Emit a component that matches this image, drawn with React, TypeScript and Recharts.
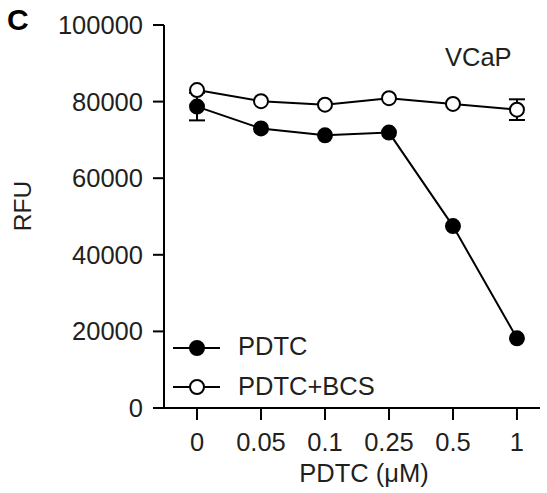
import React from 'react';
import { LineChart, Line, XAxis, YAxis, ErrorBar, Legend } from 'recharts';

const doses = ['0', '0.05', '0.1', '0.25', '0.5', '1'];
const pdtcValues = [78700, 73000, 71200, 71900, 47500, 18200];
const pdtcErrors = [3600, 0, 0, 0, 0, 0];
const bcsValues = [83000, 80100, 79200, 80900, 79400, 77900];
const bcsErrors = [0, 0, 0, 0, 0, 2700];
const yTicks = [0, 20000, 40000, 60000, 80000, 100000];
const xTicks = doses.map((_, i) => i);

const data = doses.map((d, i) => ({
  x: i,
  dose: d,
  pdtc: pdtcValues[i],
  pdtcErr: pdtcErrors[i],
  bcs: bcsValues[i],
  bcsErr: bcsErrors[i],
}));

const FONT = '"Liberation Sans", Arial, Helvetica, sans-serif';
const TEXT = '#231f20';

const LegendContent = () => (
  <svg width={260} height={80} style={{ overflow: 'visible' }}>
    <line x1={5} y1={15} x2={52} y2={15} stroke="#000" strokeWidth={2} />
    <circle cx={29} cy={15} r={7} fill="#000" stroke="#000" strokeWidth={2} />
    <text x={70} y={22} fontSize={25.5} fill={TEXT} fontFamily={FONT}>PDTC</text>
    <line x1={5} y1={54} x2={52} y2={54} stroke="#000" strokeWidth={2} />
    <circle cx={29} cy={54} r={7} fill="#fff" stroke="#000" strokeWidth={2} />
    <text x={70} y={62} fontSize={25.5} fill={TEXT} fontFamily={FONT}>PDTC+BCS</text>
  </svg>
);

export default function App() {
  return (
    <div style={{ position: 'absolute', left: 0, top: 0, width: 547, height: 493, background: '#fff', fontFamily: FONT }}>
      <LineChart
        width={547}
        height={493}
        data={data}
        margin={{ top: 25, right: 7, bottom: 0, left: 0 }}
      >
        <XAxis
          dataKey="x"
          type="number"
          domain={[-0.516, 5.36]}
          allowDataOverflow
          ticks={xTicks}
          tickFormatter={(v: number) => doses[v] ?? ''}
          height={85}
          stroke="#000"
          strokeWidth={2}
          tickSize={12}
          tickMargin={13}
          tickLine={{ stroke: '#000', strokeWidth: 2 }}
          tick={{ fill: TEXT, fontSize: 25.5, fontFamily: FONT }}
          label={() => (
            <text x={364} y={482} textAnchor="middle" fontSize={25.5} fill={TEXT} fontFamily={FONT}>
              PDTC (μM)
            </text>
          )}
        />
        <YAxis
          type="number"
          domain={[0, 100000]}
          ticks={yTicks}
          width={164}
          stroke="#000"
          strokeWidth={2}
          tickSize={11}
          tickMargin={10}
          tickLine={{ stroke: '#000', strokeWidth: 2 }}
          tick={{ fill: TEXT, fontSize: 25.5, fontFamily: FONT }}
          label={() => (
            <text x={31} y={206} textAnchor="middle" fontSize={24.5} fill={TEXT} fontFamily={FONT} transform="rotate(-90 31 206)">
              RFU
            </text>
          )}
        />
        <Line
          dataKey="bcs"
          name="PDTC+BCS"
          stroke="#000"
          strokeWidth={2}
          dot={{ r: 7, fill: '#fff', stroke: '#000', strokeWidth: 2 }}
          isAnimationActive={false}
        >
          <ErrorBar dataKey="bcsErr" width={8} stroke="#000" strokeWidth={2} direction="y" />
        </Line>
        <Line
          dataKey="pdtc"
          name="PDTC"
          stroke="#000"
          strokeWidth={2}
          dot={{ r: 7, fill: '#000', stroke: '#000', strokeWidth: 2 }}
          isAnimationActive={false}
        >
          <ErrorBar dataKey="pdtcErr" width={8} stroke="#000" strokeWidth={2} direction="y" />
        </Line>
        <Legend
          layout="horizontal"
          verticalAlign="middle"
          align="center"
          content={LegendContent}
          wrapperStyle={{ left: 168, top: 333, width: 260, height: 80 }}
        />
      </LineChart>
      <div style={{ position: 'absolute', left: 7, top: 4, fontSize: 30, fontWeight: 'bold', color: '#000', lineHeight: '32px' }}>C</div>
      <div style={{ position: 'absolute', left: 445, top: 42, fontSize: 25.5, color: TEXT, lineHeight: '30px' }}>VCaP</div>
    </div>
  );
}
